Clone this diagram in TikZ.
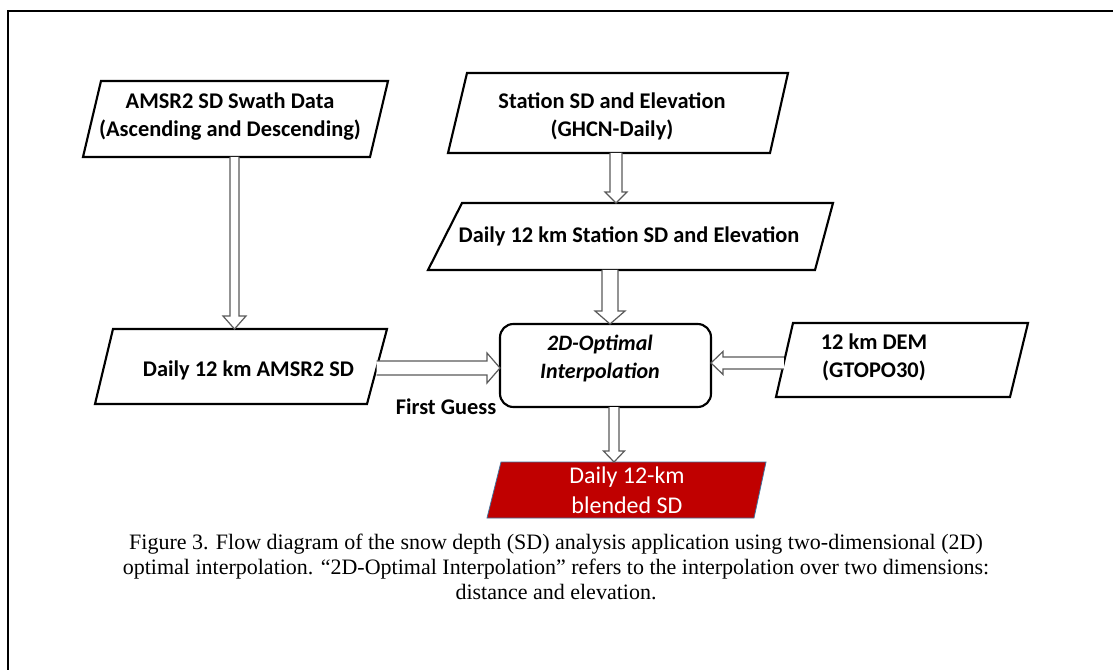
\documentclass[tikz,border=0pt]{standalone}
\usepackage{fontspec}
\setmainfont{Liberation Serif}
\newfontfamily\calib{Carlito}
\usetikzlibrary{calc,fit}
\definecolor{blendred}{HTML}{C00000}
\definecolor{blendedge}{HTML}{41719C}
\definecolor{arrowgray}{HTML}{5A5A5A}
\newcommand\pgram[4]{%
  \coordinate (#1-nw) at ($(#1.north west)+(#2,0)$);
  \coordinate (#1-ne) at (#1.north east);
  \coordinate (#1-se) at ($(#1.south east)+(-#3,0)$);
  \coordinate (#1-sw) at (#1.south west);
  \draw[#4] (#1-nw) -- (#1-ne) -- (#1-se) -- (#1-sw) -- cycle;}
\newcommand\blkdown[5]{%
  \draw[blk] ($(#1)+(-#3,0)$) -- ($(#2)+(-#3,-#5)$) -- ($(#2)+(-#4,-#5)$) -- (#2)
    -- ($(#2)+(#4,-#5)$) -- ($(#2)+(#3,-#5)$) -- ($(#1)+(#3,0)$);}
\newcommand\blkright[5]{%
  \draw[blk] ($(#1)+(0,-#3)$) -- ($(#2)+(-#5,-#3)$) -- ($(#2)+(-#5,-#4)$) -- (#2)
    -- ($(#2)+(-#5,#4)$) -- ($(#2)+(-#5,#3)$) -- ($(#1)+(0,#3)$);}
\newcommand\blkleft[5]{%
  \draw[blk] ($(#1)+(0,-#3)$) -- ($(#2)+(#5,-#3)$) -- ($(#2)+(#5,-#4)$) -- (#2)
    -- ($(#2)+(#5,#4)$) -- ($(#2)+(#5,#3)$) -- ($(#1)+(0,#3)$);}
\begin{document}
\begin{tikzpicture}[x=0.75pt,y=-0.75pt,
  area/.style={inner sep=0pt, outer sep=0pt},
  boxline/.style={draw=black, line width=1.6pt, line join=miter},
  blk/.style={draw=arrowgray, line width=0.9pt, fill=white, line join=miter},
  lbl/.style={font=\calib\bfseries\fontsize{16.8}{21}\selectfont, align=center, inner sep=0pt},
  lblit/.style={font=\calib\bfseries\itshape\fontsize{16.5}{21}\selectfont, align=center, inner sep=0pt},
  redlbl/.style={font=\calib\fontsize{18}{22.5}\selectfont, text=white, align=center, inner sep=0pt},
  caption/.style={font=\fontsize{16.5}{18.9}\selectfont, align=center, inner sep=0pt}]
\fill[white] (0,0) rectangle (1113,670);
\useasboundingbox (0,0) rectangle (1113,670);
\draw[line width=1.5pt, black] (8,671) -- (8,11) -- (1114,11);

% box areas
\node[area, fit={(83,81) (388,157)}] (swath) {};
\node[area, fit={(448,73) (788,153)}] (station) {};
\node[area, fit={(428,203) (833,270)}] (dstation) {};
\node[area, fit={(95,329) (387,404)}] (damsr) {};
\node[area, fit={(500,324) (711,407)}, draw=black, line width=1.6pt, rounded corners=10pt] (oi) {};
\node[area, fit={(776,323) (1028,397)}] (dem) {};
\node[area, fit={(487,462) (766,518)}] (blend) {};

\pgram{swath}{18}{18}{boxline}
\pgram{station}{19}{18}{boxline}
\pgram{dstation}{34}{18}{boxline}
\pgram{damsr}{18}{20}{boxline}
\pgram{dem}{17}{18}{boxline}
\pgram{blend}{14}{12}{fill=blendred, draw=blendedge, line width=0.6pt}

% texts
\node[lbl] (swathT) at (230,117) {AMSR2 SD Swath Data\\(Ascending and Descending)};
\node[lbl] (stationT) at (612,116) {Station SD and Elevation\\(GHCN-Daily)};
\node[lbl] (dstationT) at (629,236) {Daily 12 km Station SD and Elevation};
\node[lbl] (damsrT) at (248.5,370) {Daily 12 km AMSR2 SD};
\node[lblit] (oiT) at (600,359) {2D-Optimal\\Interpolation};
\node[lbl] (demT) at (874,357) {12 km DEM\\(GTOPO30)};
\node[redlbl] (blendT) at (627,490) {Daily 12-km\\blended SD};
\node[lbl] (fg) at (446,407) {First Guess};

% arrow end points
\coordinate (a1s) at (234.5,0 |- swath.south);
\coordinate (a1t) at (234.5,0 |- damsr.north);
\coordinate (a2s) at (616,0 |- station.south);
\coordinate (a2t) at (616,0 |- dstation.north);
\coordinate (a3s) at (610,0 |- dstation.south);
\coordinate (a3t) at (610,0 |- oi.north);
\coordinate (a4s) at (614,0 |- oi.south);
\coordinate (a4t) at (614,0 |- blend.north);
\coordinate (a5s) at ($(damsr-ne)!0.52!(damsr-se)$);
\coordinate (a5t) at (oi.west |- a5s);
\coordinate (a6s) at ($(dem-nw)!0.54!(dem-sw)$);
\coordinate (a6t) at (oi.east |- a6s);

\blkdown{a1s}{a1t}{4.5}{11.5}{13}
\blkdown{a2s}{a2t}{6}{11}{11}
\blkdown{a3s}{a3t}{8}{15}{13}
\blkdown{a4s}{a4t}{5}{10.5}{11}
\blkright{a5s}{a5t}{7}{15}{13}
\blkleft{a6s}{a6t}{6}{11.5}{12}

% caption
\node[caption] (cap) at (556,567) {Figure 3. Flow diagram of the snow depth (SD) analysis application using two-dimensional (2D)\\optimal interpolation. \textquotedblleft 2D-Optimal Interpolation\textquotedblright{} refers to the interpolation over two dimensions:\\distance and elevation.};
\end{tikzpicture}
\end{document}
